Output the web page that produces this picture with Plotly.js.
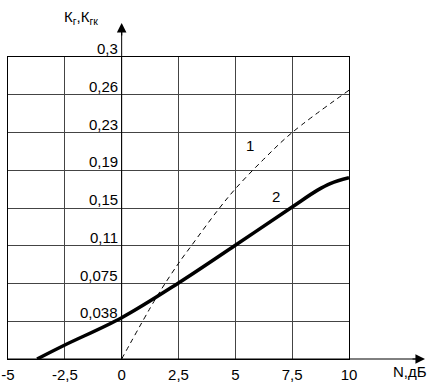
<!DOCTYPE html>
<html>
<head>
<meta charset="utf-8">
<script src="https://cdn.plot.ly/plotly-3.0.1.min.js"></script>
<style>html,body{margin:0;padding:0;background:#fff;}#chart{width:428px;height:383px;}</style>
</head>
<body>
<div id="chart"></div>
<script>
// Data
const curve1X = [0, 1.55, 2.5, 3.05, 4.2, 5, 6.25, 7.5, 10];
const curve1Y = [0, 0.062, 0.095, 0.112, 0.147, 0.169, 0.1985, 0.225, 0.267];
const curve2X = [-3.72, -2.5, 0, 2.5, 5, 7.5, 8.6, 9.2, 10];
const curve2Y = [0, 0.0139, 0.041, 0.0755, 0.113, 0.151, 0.1675, 0.1745, 0.180];
const xTickVals = [-5, -2.5, 0, 2.5, 5, 7.5, 10];
const xTickText = ['-5', '-2,5', '0', '2,5', '5', '7,5', '10'];
const yTickVals = [0.0375, 0.075, 0.1125, 0.15, 0.1875, 0.225, 0.2625, 0.3];
const yTickText = ['0,038', '0,075', '0,11', '0,15', '0,19', '0,23', '0,26', '0,3'];
const curveLabels = ['1', '2'];
const curveLabelX = [5.65, 6.79];
const curveLabelY = [0.2116, 0.161];

const FONT = 'Liberation Sans, Arial, sans-serif';

const traces = [
  {x: curve1X, y: curve1Y, mode: 'lines', line: {color: '#000', width: 1, dash: '5px,4px', shape: 'spline', smoothing: 1}, hoverinfo: 'skip', showlegend: false},
  {x: curve2X, y: curve2Y, mode: 'lines', line: {color: '#000', width: 3.5, shape: 'spline', smoothing: 1}, hoverinfo: 'skip', showlegend: false}
];

const annotations = [];
yTickVals.forEach((v, i) => {
  annotations.push({xref: 'x', yref: 'y', x: 0, y: v, text: yTickText[i], showarrow: false,
    xanchor: 'right', yanchor: 'bottom', xshift: -2, yshift: -2, font: {family: FONT, size: 15, color: '#000'}});
});
curveLabels.forEach((t, i) => {
  annotations.push({xref: 'x', yref: 'y', x: curveLabelX[i], y: curveLabelY[i], text: t, showarrow: false,
    xanchor: 'center', yanchor: 'middle', font: {family: FONT, size: 15, color: '#000'}});
});
// axis title texts
annotations.push({xref: 'paper', yref: 'paper', x: 0.158, y: 1.17, text: 'К<sub>г</sub>,К<sub>гк</sub>', showarrow: false,
  xanchor: 'left', yanchor: 'top', font: {family: FONT, size: 15, color: '#000'}});
annotations.push({xref: 'paper', yref: 'paper', x: 1.179, y: -0.04, text: 'N,дБ', showarrow: false,
  xanchor: 'center', yanchor: 'middle', font: {family: FONT, size: 15, color: '#000'}});
// arrows
annotations.push({xref: 'paper', yref: 'paper', x: 1.2229, y: 0, ax: -14, ay: 0, axref: 'pixel', ayref: 'pixel', text: '',
  showarrow: true, arrowhead: 2, arrowsize: 1.6, arrowwidth: 1.2, arrowcolor: '#000', standoff: 0});
annotations.push({xref: 'x', yref: 'paper', x: 0, y: 1.1126, ax: 0, ay: 14, axref: 'pixel', ayref: 'pixel', text: '',
  showarrow: true, arrowhead: 2, arrowsize: 1.6, arrowwidth: 1.2, arrowcolor: '#000', standoff: 0});

const layout = {
  width: 428, height: 383,
  margin: {l: 8, r: 79, t: 57, b: 24, pad: 0},
  paper_bgcolor: '#fff', plot_bgcolor: '#fff',
  showlegend: false,
  xaxis: {range: [-5, 10], tickvals: xTickVals, ticktext: xTickText, showgrid: true, gridcolor: '#444', gridwidth: 1,
    zeroline: false, showline: true, mirror: true, linecolor: '#000', linewidth: 1, ticks: '',
    tickfont: {family: FONT, size: 15, color: '#000'}, ticklabelstandoff: 2, fixedrange: true},
  yaxis: {range: [0, 0.3], tickvals: yTickVals, showticklabels: false, showgrid: true, gridcolor: '#444', gridwidth: 1,
    zeroline: false, showline: true, mirror: true, linecolor: '#000', linewidth: 1, ticks: '', fixedrange: true},
  shapes: [
    {type: 'line', xref: 'paper', yref: 'paper', x0: 0, x1: 1.2, y0: 0, y1: 0, line: {color: '#000', width: 1}},
    {type: 'line', xref: 'x', yref: 'paper', x0: 0, x1: 0, y0: 0, y1: 1.09, line: {color: '#000', width: 1}}
  ],
  annotations: annotations
};

Plotly.newPlot('chart', traces, layout, {staticPlot: true, displayModeBar: false});
</script>
</body>
</html>
